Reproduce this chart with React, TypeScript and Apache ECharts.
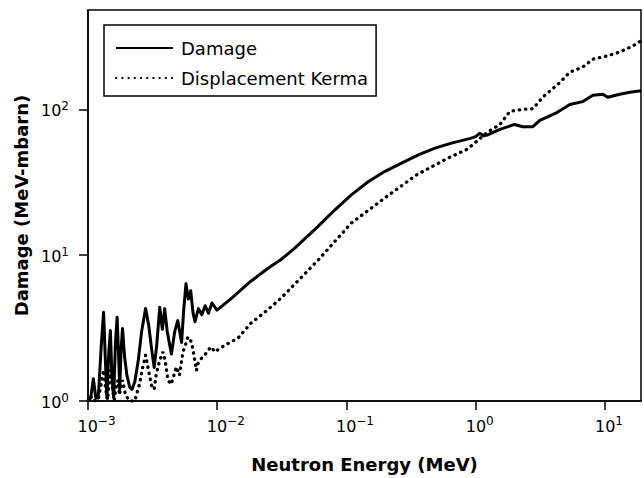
import React, { useEffect, useRef } from 'react';
import * as echarts from 'echarts';

// [neutron energy (MeV), damage (MeV-mbarn)]
const damagePoints: [number, number][] = [
  [1.0e-3, 1.0], [1.05e-3, 1.05], [1.1e-3, 1.42], [1.15e-3, 1.05], [1.2e-3, 1.05],
  [1.27e-3, 2.5], [1.32e-3, 4.06], [1.36e-3, 2.0], [1.4e-3, 1.05], [1.45e-3, 2.2],
  [1.49e-3, 3.04], [1.53e-3, 1.5], [1.58e-3, 1.05], [1.63e-3, 2.5], [1.68e-3, 3.75],
  [1.72e-3, 2.2], [1.76e-3, 1.2], [1.8e-3, 2.2], [1.85e-3, 3.14], [1.92e-3, 2.0],
  [2.0e-3, 1.5], [2.1e-3, 1.25], [2.19e-3, 1.2], [2.3e-3, 1.35], [2.45e-3, 1.9],
  [2.6e-3, 3.0], [2.79e-3, 4.31], [2.95e-3, 3.3], [3.1e-3, 2.3], [3.25e-3, 1.7],
  [3.4e-3, 2.4], [3.59e-3, 4.4], [3.76e-3, 3.1], [3.92e-3, 4.3], [4.1e-3, 3.0],
  [4.42e-3, 2.1], [4.69e-3, 3.0], [4.95e-3, 3.56], [5.3e-3, 2.52], [5.5e-3, 4.2],
  [5.73e-3, 6.38], [5.97e-3, 5.0], [6.23e-3, 5.7], [6.5e-3, 4.0], [6.73e-3, 3.5],
  [7.15e-3, 4.3], [7.6e-3, 3.9], [8.06e-3, 4.5], [8.55e-3, 4.0], [9.1e-3, 4.7],
  [9.95e-3, 4.2], [0.0103, 4.3], [0.013, 5.1], [0.0181, 6.6], [0.025, 8.2],
  [0.031, 9.3], [0.0394, 11.1], [0.06, 15.7], [0.081, 20.4], [0.109, 25.9],
  [0.148, 32], [0.199, 37.6], [0.269, 42.9], [0.363, 48.9], [0.49, 54.4],
  [0.66, 58.9], [0.893, 63], [1.0, 65], [1.07, 68.5], [1.15, 66], [1.25, 67],
  [1.54, 72.8], [2.0, 78.8], [2.31, 76], [2.77, 76], [3.13, 84], [4.25, 95],
  [5.35, 108], [6.74, 113], [8.06, 125], [9.63, 127], [10.5, 121], [13.0, 127],
  [15.6, 131], [19, 134],
];

// [neutron energy (MeV), displacement kerma (MeV-mbarn)]
const kermaPoints: [number, number][] = [
  [1.0e-3, 1.0], [1.05e-3, 1.08], [1.1e-3, 1.0], [1.2e-3, 1.02], [1.27e-3, 1.35],
  [1.32e-3, 1.63], [1.37e-3, 1.2], [1.42e-3, 1.02], [1.46e-3, 1.4], [1.5e-3, 1.63],
  [1.55e-3, 1.2], [1.6e-3, 1.02], [1.66e-3, 1.3], [1.71e-3, 1.39], [1.75e-3, 1.1],
  [1.8e-3, 1.25], [1.85e-3, 1.39], [1.95e-3, 1.1], [2.1e-3, 1.0], [2.3e-3, 1.0],
  [2.5e-3, 1.3], [2.65e-3, 1.7], [2.79e-3, 2.06], [2.95e-3, 1.6], [3.1e-3, 1.28],
  [3.25e-3, 1.2], [3.38e-3, 1.54], [3.59e-3, 1.9], [3.8e-3, 2.17], [3.95e-3, 1.9],
  [4.16e-3, 1.39], [4.4e-3, 1.3], [4.83e-3, 1.71], [5.1e-3, 1.5], [5.43e-3, 2.17],
  [5.78e-3, 2.54], [5.94e-3, 2.75], [6.31e-3, 2.54], [6.5e-3, 2.23], [6.9e-3, 1.62],
  [7.1e-3, 1.81], [7.55e-3, 1.96], [8.0e-3, 2.06], [8.49e-3, 2.23], [9.02e-3, 2.35],
  [9.57e-3, 2.17], [0.01045, 2.29], [0.01143, 2.41], [0.0145, 2.7], [0.0181, 3.4],
  [0.0236, 4.1], [0.031, 5.05], [0.06, 9.2], [0.109, 16.6], [0.198, 24.7],
  [0.35, 35.6], [0.6, 46], [0.85, 53], [1.01, 60], [1.22, 69.4], [1.54, 78.8],
  [1.84, 96.9], [2.31, 100], [2.77, 101], [3.3, 121], [4.48, 153], [5.35, 180],
  [6.74, 195], [8.06, 221], [10.3, 232], [13.0, 247], [16.4, 272], [19, 295],
];

const seriesNames = ['Damage', 'Displacement Kerma'];
const xTickValues = [0.001, 0.01, 0.1, 1, 10];
const yTickValues = [1, 10, 100];
const xRange = [0.001, 19];
const yRange = [1, 480];
const xTitle = 'Neutron Energy (MeV)';
const yTitle = 'Damage (MeV-mbarn)';

const FONT = 'DejaVu Sans';

function expText(v: number): string {
  const e = Math.round(Math.log10(v));
  return e < 0 ? '\u2212' + String(-e) : String(e);
}

const richStyles = {
  b: { fontFamily: FONT, fontSize: 16, lineHeight: 19, verticalAlign: 'bottom', color: '#000' },
  s: { fontFamily: FONT, fontSize: 12, lineHeight: 13, verticalAlign: 'top', color: '#000' },
  p1: { width: 8 },
  p2: { width: 17 },
};

export default function App() {
  const ref = useRef<HTMLDivElement>(null);
  useEffect(() => {
    if (!ref.current) return;
    const chart = echarts.init(ref.current, null, { renderer: 'svg' });
    chart.setOption({
      animation: false,
      backgroundColor: '#fff',
      grid: {
        left: 88, top: 10, right: 3, bottom: 77,
        show: true, borderColor: '#000', borderWidth: 1.5, backgroundColor: 'transparent',
      },
      legend: {
        left: 104, top: 25, orient: 'vertical',
        itemWidth: 57, itemHeight: 14, itemGap: 10,
        padding: [13, 8, 8, 11],
        borderColor: '#000', borderWidth: 1.5, backgroundColor: '#fff',
        selectedMode: false,
        data: seriesNames,
        itemStyle: { opacity: 0 },
        textStyle: { fontFamily: FONT, fontSize: 18, color: '#000', lineHeight: 20, padding: [0, 0, 0, 3] },
      },
      xAxis: {
        type: 'log', logBase: 10, min: xRange[0], max: xRange[1],
        name: xTitle, nameLocation: 'middle', nameGap: 54,
        nameTextStyle: { fontFamily: FONT, fontWeight: 'bold', fontSize: 18, color: '#000' },
        axisLine: { lineStyle: { color: '#000', width: 1.5 } },
        axisTick: { inside: false, length: 9, lineStyle: { color: '#000', width: 1.5 }, customValues: xTickValues },
        axisLabel: {
          customValues: xTickValues, margin: 14,
          formatter: (v: number) => {
            const s = expText(v);
            return `{p${s.length}|}{b|10}{s|${s}}`;
          },
          rich: richStyles,
        },
        splitLine: { show: false },
        minorTick: { show: false },
      },
      yAxis: {
        type: 'log', logBase: 10, min: yRange[0], max: yRange[1],
        name: yTitle, nameLocation: 'middle', nameGap: 54,
        nameTextStyle: { fontFamily: FONT, fontWeight: 'bold', fontSize: 18, color: '#000' },
        axisLine: { lineStyle: { color: '#000', width: 1.5 } },
        axisTick: { inside: false, length: 9, lineStyle: { color: '#000', width: 1.5 }, customValues: yTickValues },
        axisLabel: {
          customValues: yTickValues, margin: 19,
          formatter: (v: number) => `{b|10}{s|${expText(v)}}`,
          rich: richStyles,
        },
        splitLine: { show: false },
        minorTick: { show: false },
      },
      series: [
        {
          name: seriesNames[0], type: 'line', data: damagePoints,
          symbol: 'none', showSymbol: false, clip: true,
          itemStyle: { color: '#000' },
          lineStyle: { color: '#000', width: 3, join: 'round' },
        },
        {
          name: seriesNames[1], type: 'line', data: kermaPoints,
          symbol: 'none', showSymbol: false, clip: true,
          itemStyle: { color: '#000' },
          lineStyle: { color: '#000', width: 3.3, type: [0.4, 5.8], cap: 'round' },
        },
      ],
    });
    return () => chart.dispose();
  }, []);
  return (
    <div
      ref={ref}
      style={{ position: 'fixed', left: 0, top: 0, width: 644, height: 478, background: '#fff' }}
    />
  );
}
